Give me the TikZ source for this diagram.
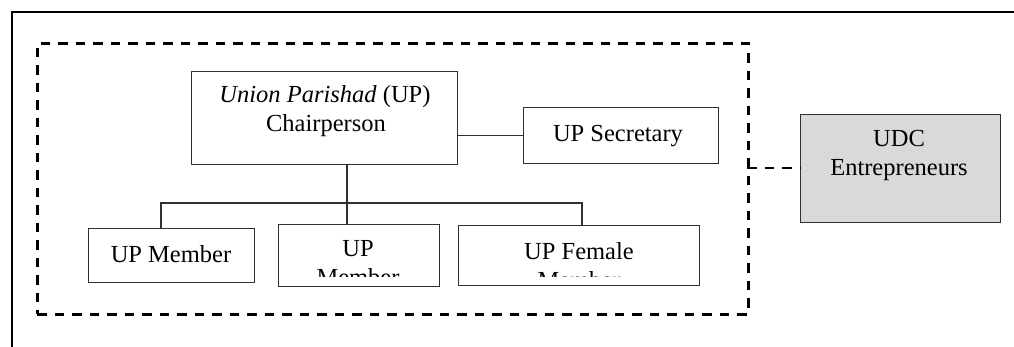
\documentclass[tikz,border=0pt]{standalone}
\usepackage{fontspec}
\setmainfont{Liberation Serif}
\definecolor{bx}{HTML}{303030}
\definecolor{udcfill}{HTML}{D9D9D9}
\tikzset{
  orgbox/.style={draw=bx, line width=1.1pt, rectangle, inner sep=0pt, anchor=north west},
  txt/.style={inner sep=0pt, anchor=base, font=\fontsize{24.5}{28}\selectfont},
  link/.style={draw=bx, line width=1.1pt},
  dashline/.style={line width=2.6pt, dash pattern=on 9.5pt off 8pt},
  frame/.style={line width=2.6pt}
}
\begin{document}
\begin{tikzpicture}[x=1pt,y=-1pt]
\useasboundingbox (0,0) rectangle (1014,347);
% outer frame (open to the right and bottom)
\coordinate (ftr) at (1014,12);
\coordinate (ftl) at (12,12);
\coordinate (fbl) at (12,347);
\draw[frame] (ftr) -- (ftl) -- (fbl);
% dashed boundary
\node[draw, dashline, rectangle, inner sep=0pt, anchor=north west, minimum width=711pt, minimum height=271pt] (bound) at (36,42) {};
% boxes
\node[orgbox, minimum width=266pt, minimum height=93pt] (chair) at (191,71) {};
\node[orgbox, minimum width=195pt, minimum height=56pt] (sec) at (523,107) {};
\node[orgbox, minimum width=166pt, minimum height=54pt] (mem1) at (88,228) {};
\node[orgbox, minimum width=161pt, minimum height=62pt] (mem2) at (278,224) {};
\node[orgbox, minimum width=241pt, minimum height=60pt] (fem) at (458,225) {};
\node[orgbox, fill=udcfill, minimum width=200pt, minimum height=108pt] (udc) at (800,114) {};
% texts
\node[txt] (chairA) at (325,103) {\textit{Union Parishad} (UP)};
\node[txt] (chairB) at (326,132) {Chairperson};
\node[txt] (secT) at (618,142) {UP Secretary};
\node[txt] (mem1T) at (171,262) {UP Member};
\begin{scope}
  \clip (278,224) rectangle (439,276);
  \node[txt] (mem2A) at (358,257) {UP};
  \node[txt] (mem2B) at (358,286) {Member};
\end{scope}
\begin{scope}
  \clip (458,225) rectangle (699,276);
  \node[txt] (femA) at (579,259) {UP Female};
  \node[txt] (femB) at (579,288) {Member};
\end{scope}
\node[txt] (udcA) at (899,147) {UDC};
\node[txt] (udcB) at (899,176) {Entrepreneurs};
% connectors
\draw[link] (chair.east |- sec.west) -- (sec.west);
\coordinate (jt) at (347,203);
\coordinate (jl) at (161,203);
\coordinate (jr) at (582,203);
\draw[link] (chair.south -| jt) -- (mem2.north -| jt);
\draw[link] (mem1.north -| jl) -- (jl) -- (jr) -- (fem.north -| jr);
\coordinate (dc) at (747,168);
\draw[dashline] (dc) -- (udc.west |- dc);
\end{tikzpicture}
\end{document}
